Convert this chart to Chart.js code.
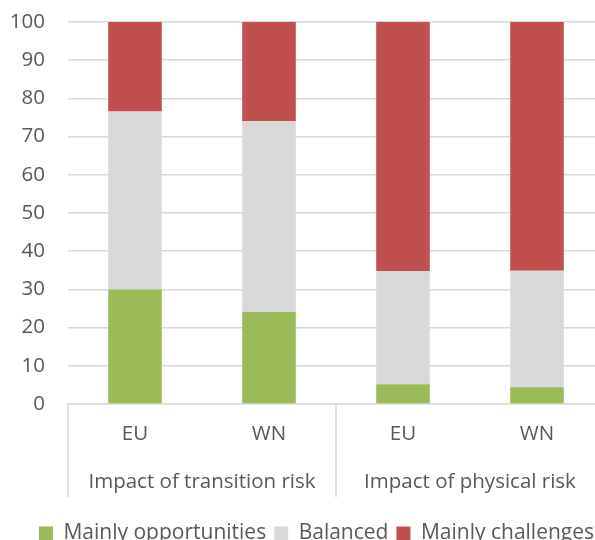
<!DOCTYPE html>
<html>
<head>
<meta charset="utf-8">
<script src="https://cdn.jsdelivr.net/npm/chart.js@4/dist/chart.umd.min.js"></script>
<style>
    html, body { margin: 0; padding: 0; background: #fff; overflow: hidden; }
    #wrap { position: absolute; left: 0; top: 0; width: 633px; height: 554px; }
</style>
</head>
<body>
<div id="wrap"><canvas id="chart" width="633" height="554"></canvas></div>
<script>
const categories = ['EU', 'WN', 'EU', 'WN'];
const groups = ['Impact of transition risk', 'Impact of physical risk'];
const opportunities = [30, 24.1, 5.2, 4.4];
const balanced = [46.6, 49.9, 29.6, 30.5];
const challenges = [23.4, 26, 65.2, 65.1];
const yTicks = [0, 10, 20, 30, 40, 50, 60, 70, 80, 90, 100];

const TEXT = '#595959';
const LINE = '#d9d9d9';
const FONT = 'Open Sans';
const AXIS_SIZE = 20.5;

// group labels + separators under the category axis
const groupAxis = {
    id: 'groupAxis',
    afterDraw(chart) {
        const ctx = chart.ctx;
        const x = chart.scales.x;
        const top = chart.chartArea.bottom;
        const bottom = top + 93;
        const edges = [-0.5, 1.5, 3.5].map(v => x.getPixelForValue(v));
        ctx.save();
        ctx.strokeStyle = LINE;
        ctx.lineWidth = 1.5;
        edges.forEach(px => {
            ctx.beginPath();
            ctx.moveTo(px, top);
            ctx.lineTo(px, bottom);
            ctx.stroke();
        });
        ctx.fillStyle = TEXT;
        ctx.font = AXIS_SIZE + 'px "' + FONT + '"';
        ctx.textAlign = 'center';
        ctx.textBaseline = 'middle';
        groups.forEach((g, i) => {
            ctx.fillText(g, x.getPixelForValue(i * 2 + 0.5), top + 78);
        });
        ctx.restore();
    }
};

new Chart(document.getElementById('chart'), {
    type: 'bar',
    data: {
        labels: categories,
        datasets: [
            { label: 'Mainly opportunities', data: opportunities, backgroundColor: '#9bbb59' },
            { label: 'Balanced', data: balanced, backgroundColor: '#d9d9d9' },
            { label: 'Mainly challenges', data: challenges, backgroundColor: '#c0504d' }
        ]
    },
    options: {
        responsive: false,
        animation: false,
        layout: { padding: { top: 22, left: 0, right: 0, bottom: 0 } },
        datasets: { bar: { categoryPercentage: 0.8, barPercentage: 0.5 } },
        plugins: {
            legend: {
                position: 'bottom',
                labels: {
                    color: TEXT,
                    font: { family: FONT, size: 21 },
                    boxWidth: 14,
                    boxHeight: 14,
                    padding: 8
                }
            },
            tooltip: { enabled: false }
        },
        scales: {
            x: {
                stacked: true,
                grid: { display: false, drawTicks: false },
                border: { color: LINE, width: 1.5 },
                ticks: { color: TEXT, font: { family: FONT, size: AXIS_SIZE }, padding: 18 },
                afterFit: s => { s.height = 111; s.paddingRight = 29; }
            },
            y: {
                stacked: true,
                min: 0,
                max: 100,
                grid: { color: LINE, lineWidth: 1.5, drawTicks: false },
                border: { display: false },
                afterBuildTicks: s => { s.ticks = yTicks.map(v => ({ value: v })); },
                ticks: { color: TEXT, font: { family: FONT, size: AXIS_SIZE }, padding: 23 },
                afterFit: s => { s.width = 68; s.paddingTop = 0; s.paddingBottom = 0; }
            }
        }
    },
    plugins: [groupAxis]
});
</script>
</body>
</html>
